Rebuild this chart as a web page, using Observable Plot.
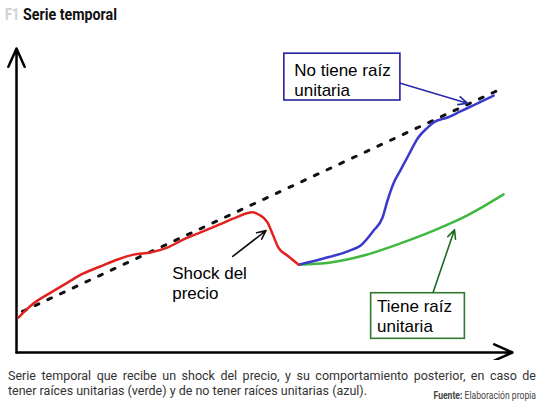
<!DOCTYPE html>
<html><head><meta charset="utf-8">
<script src="https://cdn.jsdelivr.net/npm/d3@7"></script>
<script src="https://cdn.jsdelivr.net/npm/@observablehq/plot@0.6"></script>
<style>
body{margin:0;background:#fff;width:544px;height:406px;position:relative;overflow:hidden;font-family:Roboto,"Noto Sans",sans-serif;}
#title{position:absolute;left:5px;top:4px;height:26px;font-family:Roboto;font-weight:700;font-size:16px;line-height:22px;white-space:nowrap;}
#title .num{color:#d0d0d0;display:inline-block;transform:scaleX(0.8);transform-origin:left;}
#title .txt{color:#111;display:inline-block;transform:scaleX(0.89);transform-origin:left;position:absolute;left:18px;}
#chart{position:absolute;left:0;top:30px;}
.cap{position:absolute;left:8px;font-size:12.5px;line-height:15px;color:#333;white-space:nowrap;}
#cap1{top:368px;width:528px;text-align:justify;text-align-last:justify;white-space:normal;}
#cap2{top:383px;}
#source{position:absolute;right:8px;top:389px;font-size:10.5px;color:#444;white-space:nowrap;transform:scaleX(0.82);transform-origin:right;}
#source b{font-weight:700;}
</style>
</head><body>
<div id="title"><span class="num">F1</span><span class="txt">Serie temporal</span></div>
<div id="chart"></div>
<div class="cap" id="cap1">Serie temporal que recibe un shock del precio, y su comportamiento posterior, en caso de</div>
<div class="cap" id="cap2">tener raíces unitarias (verde) y de no tener raíces unitarias (azul).</div>
<div id="source"><b>Fuente:</b> Elaboración propia</div>
<script>
// ---- data (arbitrary units: time 0..100, value 0..100) ----
const trendT = [1.2, 97];
const trendV = [13.5, 86.2];

const redT = [0.4, 3.4, 6.9, 10.3, 13.5, 16.9, 20.4, 23.6, 27.0, 30.4, 33.7, 37.1, 40.5, 43.8, 47.6, 48.8, 50.6, 51.6, 52.8, 54.6, 56.9];
const redV = [11.5, 16.1, 19.7, 23.0, 26.0, 28.3, 30.6, 32.2, 32.9, 34.5, 37.2, 39.5, 41.8, 44.1, 46.1, 45.4, 42.8, 39.1, 34.5, 31.9, 28.9];

const blueT = [56.9, 61.9, 67.3, 69.4, 72.0, 73.8, 74.8, 76.0, 77.4, 79.0, 81.0, 82.9, 84.1, 86.9, 89.5, 92.1, 96.2];
const blueV = [28.9, 30.9, 33.6, 35.2, 40.1, 44.4, 50.0, 55.6, 59.9, 64.8, 70.7, 74.0, 75.7, 77.3, 79.3, 81.3, 84.5];

const greenT = [56.9, 63.3, 70.0, 77.4, 84.1, 90.9, 98.2];
const greenV = [28.9, 29.6, 31.9, 35.9, 40.1, 45.1, 52.0];

// annotations
const labelText = ["No tiene raíz\nunitaria", "Shock del\nprecio", "Tiene raíz\nunitaria"];
const labelT = [56.0, 31.4, 72.7];
const labelV = [95.6, 28.9, 18.0];

const boxT1 = [54.0, 71.5];
const boxT2 = [77.4, 90.4];
const boxV1 = [82.9, 4.5];
const boxV2 = [98.3, 19.5];

const arrowT1 = [77.4, 43.6, 84.0];
const arrowV1 = [88.6, 31.6, 19.8];
const arrowT2 = [90.9, 50.3, 88.3];
const arrowV2 = [82.0, 40.1, 40.4];

// ---- build ----
const toPts = (T, V) => T.map((t, i) => ({t, v: V[i]}));
const trend = toPts(trendT, trendV);
const red = toPts(redT, redV);
const blue = toPts(blueT, blueV);
const green = toPts(greenT, greenV);
const labels = labelText.map((s, i) => ({s, t: labelT[i], v: labelV[i]}));
const boxes = boxT1.map((d, i) => ({x1: d, x2: boxT2[i], y1: boxV1[i], y2: boxV2[i]}));
const arrows = arrowT1.map((d, i) => ({x1: d, y1: arrowV1[i], x2: arrowT2[i], y2: arrowV2[i]}));
const boxColors = ["#23239a", "#2f7a2f"];
const arrowColors = ["#2a2aa8", "#111111", "#1e6a1e"];

const chart = Plot.plot({
  width: 544,
  height: 330,
  marginLeft: 16,
  marginRight: 32,
  marginTop: 18,
  marginBottom: 8,
  x: {domain: [0, 100], axis: null},
  y: {domain: [0, 100], axis: null},
  marks: [
    Plot.arrow([{x1: 0, y1: 0, x2: 100, y2: 0}, {x1: 0, y1: 0, x2: 0, y2: 100}],
      {x1: "x1", y1: "y1", x2: "x2", y2: "y2", stroke: "#000", strokeWidth: 2.5, headLength: 12, headAngle: 48}),
    Plot.line(trend, {x: "t", y: "v", stroke: "#111", strokeWidth: 3, strokeDasharray: "4,10"}),
    Plot.line(green, {x: "t", y: "v", stroke: "#3fb83f", strokeWidth: 2.5, curve: "monotone-x"}),
    Plot.line(blue, {x: "t", y: "v", stroke: "#3a3acb", strokeWidth: 2.5, curve: "monotone-x"}),
    Plot.line(red, {x: "t", y: "v", stroke: "#e1221f", strokeWidth: 2.5, curve: "monotone-x"}),
    Plot.rect(boxes, {x1: "x1", x2: "x2", y1: "y1", y2: "y2", fill: "#fff", stroke: (d, i) => boxColors[i], strokeWidth: 1.6}),
    Plot.arrow(arrows, {x1: "x1", y1: "y1", x2: "x2", y2: "y2", stroke: (d, i) => arrowColors[i], strokeWidth: 1.6, headLength: 9, headAngle: 50}),
    Plot.text(labels, {x: "t", y: "v", text: "s", textAnchor: "start", lineAnchor: "top", fontSize: 17, lineHeight: 1.18, fill: "#000", fontFamily: "Liberation Sans, Arial, sans-serif"})
  ]
});
document.getElementById("chart").appendChild(chart);
</script>
</body></html>
